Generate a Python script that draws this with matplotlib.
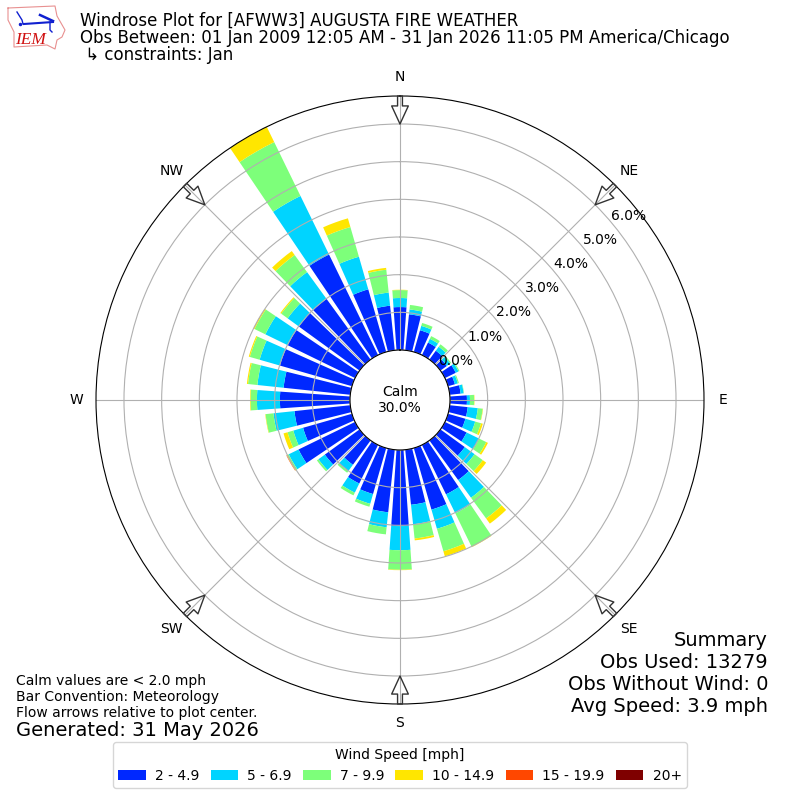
import numpy as np
import matplotlib
matplotlib.use("Agg")
import matplotlib.pyplot as plt

# direction bins, degrees clockwise from north
directions = np.arange(0, 360, 10)

# percent of observations in each speed bin, per direction
speed_2_5 = [1.14, 0.96, 0.60, 0.37, 0.29, 0.21, 0.32, 0.19, 0.29, 0.45, 0.48, 0.48,
             0.64, 0.80, 1.30, 1.46, 1.70, 1.47, 2.02, 1.67, 1.27, 1.14, 0.80, 1.14,
             1.67, 1.35, 1.49, 1.86, 1.78, 1.99, 1.99, 1.99, 1.99, 2.97, 1.73, 1.19]
speed_5_7 = [0.24, 0.13, 0.12, 0.11, 0.13, 0.11, 0.08, 0.08, 0.08, 0.08, 0.27, 0.27,
             0.37, 0.32, 0.58, 0.56, 0.53, 0.52, 0.64, 0.40, 0.27, 0.27, 0.21, 0.21,
             0.29, 0.27, 0.56, 0.61, 0.70, 0.56, 0.66, 0.37, 0.88, 1.73, 0.90, 0.35]
speed_7_10 = [0.21, 0.12, 0.08, 0.08, 0.08, 0.03, 0.03, 0.03, 0.01, 0.11, 0.13, 0.16,
              0.21, 0.27, 0.68, 0.99, 0.62, 0.38, 0.52, 0.19, 0.08, 0.08, 0.05, 0.05,
              0.05, 0.16, 0.21, 0.17, 0.25, 0.27, 0.32, 0.21, 0.56, 1.59, 0.82, 0.61]
speed_10_15 = [0.01, 0.00, 0.00, 0.00, 0.00, 0.00, 0.00, 0.00, 0.00, 0.01, 0.01, 0.05,
               0.05, 0.11, 0.17, 0.01, 0.14, 0.05, 0.01, 0.00, 0.00, 0.00, 0.00, 0.00,
               0.01, 0.11, 0.01, 0.015, 0.03, 0.03, 0.03, 0.03, 0.13, 0.45, 0.24, 0.05]
speed_15_20 = [0.00, 0.00, 0.00, 0.00, 0.00, 0.00, 0.00, 0.00, 0.00, 0.00, 0.00, 0.00,
               0.00, 0.00, 0.00, 0.00, 0.00, 0.00, 0.00, 0.00, 0.00, 0.00, 0.00, 0.00,
               0.01, 0.00, 0.00, 0.00, 0.00, 0.00, 0.00, 0.00, 0.00, 0.00, 0.00, 0.00]
speed_20 = [0.0] * 36

series = [speed_2_5, speed_5_7, speed_7_10, speed_10_15, speed_15_20, speed_20]
labels = ["2 - 4.9", "5 - 6.9", "7 - 9.9", "10 - 14.9", "15 - 19.9", "20+"]
colors = ["#0028ff", "#00d4ff", "#7dff7a", "#ffe600", "#ff4700", "#7f0000"]

compass = ["N", "NE", "E", "SE", "S", "SW", "W", "NW"]
compass_deg = [0, 45, 90, 135, 180, 225, 270, 315]
rings = [0, 1, 2, 3, 4, 5, 6]

fig = plt.figure(figsize=(8, 8), dpi=100)
ax = fig.add_axes([96 / 800, 96 / 800, 608 / 800, 608 / 800], projection="polar")
ax.set_theta_zero_location("N")
ax.set_theta_direction(-1)

# stacked bars
theta = np.deg2rad(directions)
bottom = np.zeros(36)
handles = []
for vals, lab, col in zip(series, labels, colors):
    vals = np.array(vals)
    bars = ax.bar(theta, vals, width=np.deg2rad(8), bottom=bottom, color=col, label=lab)
    handles.append(bars)
    bottom = bottom + vals

ax.set_rorigin(-1.327)
ax.set_ylim(0, 6.743)
ax.set_yticks(rings)
ax.set_yticklabels(["%.1f%%" % r for r in rings])
ax.set_rlabel_position(50)
ax.set_xticks(np.deg2rad(compass_deg))
ax.set_xticklabels(compass)
ax.grid(True)

# flow arrows at the compass points, grid shows through them
for d in compass_deg:
    ax.annotate("", xy=(np.deg2rad(d), 6.0), xytext=(np.deg2rad(d), 6.743),
                arrowprops=dict(facecolor="none", edgecolor="#333333", linewidth=1,
                                width=3.5, headwidth=12, headlength=13))

ax.text(0.5, 0.5, "Calm\n30.0%", transform=ax.transAxes, ha="center", va="center", fontsize=10)

# titles
fig.text(80 / 800, 1 - 26 / 800, "Windrose Plot for [AFWW3] AUGUSTA FIRE WEATHER",
         fontsize=12, va="baseline")
fig.text(80 / 800, 1 - 43 / 800, "Obs Between: 01 Jan 2009 12:05 AM - 31 Jan 2026 11:05 PM America/Chicago",
         fontsize=12, va="baseline")
fig.text(80 / 800, 1 - 60 / 800, " \u21b3 constraints: Jan", fontsize=12, va="baseline")

# footer notes
fig.text(16 / 800, 1 - 685 / 800, "Calm values are < 2.0 mph", fontsize=10, va="baseline")
fig.text(16 / 800, 1 - 701 / 800, "Bar Convention: Meteorology", fontsize=10, va="baseline")
fig.text(16 / 800, 1 - 717 / 800, "Flow arrows relative to plot center.", fontsize=10, va="baseline")
fig.text(16 / 800, 1 - 736 / 800, "Generated: 31 May 2026", fontsize=14, va="baseline")

fig.text(768 / 800, 1 - 646 / 800, "Summary", fontsize=14, ha="right", va="baseline")
fig.text(768 / 800, 1 - 668 / 800, "Obs Used: 13279", fontsize=14, ha="right", va="baseline")
fig.text(768 / 800, 1 - 690 / 800, "Obs Without Wind: 0", fontsize=14, ha="right", va="baseline")
fig.text(768 / 800, 1 - 712 / 800, "Avg Speed: 3.9 mph", fontsize=14, ha="right", va="baseline")

# legend across the bottom
fig.legend(handles=handles, title="Wind Speed [mph]", loc="lower center", ncol=6,
           bbox_to_anchor=(0.5, 0.00625), fontsize=10, title_fontsize=10,
           columnspacing=0.8, handletextpad=0.65)

# small logo, top left
logo = fig.add_axes([5 / 800, 1 - 52 / 800, 62 / 800, 50 / 800])
logo.set_xlim(5, 67)
logo.set_ylim(52, 2)
logo.axis("off")
state_x = [8, 55, 57, 65, 62, 57, 55, 47, 14, 14, 8, 8]
state_y = [8, 6, 16, 30, 37, 40, 49, 45, 47, 32, 20, 8]
logo.plot(state_x, state_y, color="#e89090", lw=0.8)
logo.plot([24, 53], [24, 22], color="#1020d0", lw=1.5)
logo.plot([17, 22, 23], [12, 20, 24], color="#1020d0", lw=1)
logo.plot([40, 53], [15, 21], color="#1020d0", lw=1.8)
logo.plot([50, 50, 52], [22, 30, 32], color="#1020d0", lw=1)
logo.plot([20], [24], "o", color="#1020d0", ms=1.5)
logo.text(15, 44, "IEM", color="#d01010", fontsize=12.5, family="Liberation Serif", style="italic")

plt.savefig("out.png", dpi=100)
